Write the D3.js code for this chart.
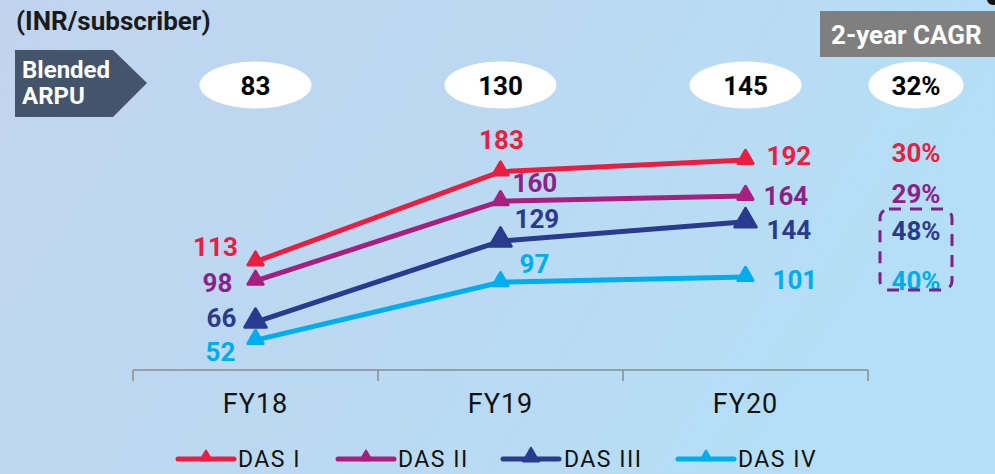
<!DOCTYPE html>
<html>
<head>
<meta charset="utf-8">
<script src="https://cdn.jsdelivr.net/npm/d3@7"></script>
<style>
  html, body { margin: 0; padding: 0; overflow: hidden; }
  svg { display: block; }
  .num { font-family: Roboto, "Noto Sans", sans-serif; font-weight: 700; }
  .narrow { font-family: "Liberation Sans Narrow", "Roboto", sans-serif; }
</style>
</head>
<body>
<svg id="chart" width="995" height="474"></svg>
<script>
// chart values
var years = ['FY18', 'FY19', 'FY20'];
var seriesNames = ['DAS I', 'DAS II', 'DAS III', 'DAS IV'];
var dasI = [113, 183, 192];
var dasII = [98, 160, 164];
var dasIII = [66, 129, 144];
var dasIV = [52, 97, 101];
var blendedArpu = [83, 130, 145];
var blendedCagr = '32%';
var seriesCagr = ['30%', '29%', '48%', '40%'];

// styles
var lineColors = ['#e91e40', '#a81f80', '#283b8e', '#00adef'];
var labelColors = ['#e91e40', '#8c2289', '#2b3b8c', '#00adef'];
var markerSize = [100, 100, 200, 100];
// label offsets from each point: [dx, dy, anchor]
var labelPos = [
  [[-40, -6, 'middle'], [1, -23, 'middle'], [21, 5, 'start']],
  [[-38, 11, 'middle'], [12, -9, 'start'], [18, 9, 'start']],
  [[-34, 5, 'middle'], [14, -13, 'start'], [21, 17, 'start']],
  [[-35, 21, 'middle'], [19, -9, 'start'], [27, 12, 'start']]
];

var svg = d3.select('#chart');
var W = 995, H = 474;

// background
var defs = svg.append('defs');
var grad = defs.append('linearGradient').attr('id', 'bg')
  .attr('x1', 0).attr('y1', 0).attr('x2', 1).attr('y2', 0.3);
grad.append('stop').attr('offset', '0%').attr('stop-color', '#c1d4ef');
grad.append('stop').attr('offset', '55%').attr('stop-color', '#bbd9f2');
grad.append('stop').attr('offset', '100%').attr('stop-color', '#b4dff6');
svg.append('rect').attr('width', W).attr('height', H).attr('fill', 'url(#bg)');
svg.append('circle').attr('cx', 993).attr('cy', -1).attr('r', 6).attr('fill', '#111');

// scales
var x = d3.scaleBand().domain(years).range([133, 868]);
var y = d3.scaleLinear().domain([0, 250]).range([407, 85.5]);
var cx = function(d) { return x(d) + x.bandwidth() / 2; };

// header
svg.append('text').attr('class', 'num')
  .attr('x', 16).attr('y', 30).attr('font-size', 26).attr('fill', '#1a1a1a')
  .text('(INR/subscriber)');

svg.append('path')
  .attr('d', 'M15,50 L113,50 L147,83 L113,117 L15,117 Z')
  .attr('fill', '#44546b');
svg.append('text').attr('class', 'num').attr('fill', '#fff').attr('font-size', 24)
  .attr('x', 22).attr('y', 78).text('Blended');
svg.append('text').attr('class', 'num').attr('fill', '#fff').attr('font-size', 24)
  .attr('x', 22).attr('y', 104).text('ARPU');

svg.append('rect').attr('x', 820).attr('y', 11).attr('width', 180).attr('height', 46)
  .attr('fill', '#7f7f7f');
svg.append('text').attr('class', 'num').attr('fill', '#fff').attr('font-size', 26)
  .attr('x', 831).attr('y', 44).text('2-year CAGR');

var arpu = svg.selectAll('g.arpu').data(blendedArpu).enter().append('g')
  .attr('class', 'arpu')
  .attr('transform', function(d, i) { return 'translate(' + cx(years[i]) + ',85)'; });
arpu.append('ellipse').attr('rx', 56).attr('ry', 23.5).attr('fill', '#fff');
arpu.append('text').attr('class', 'num').attr('text-anchor', 'middle')
  .attr('y', 9.5).attr('font-size', 26).attr('fill', '#000')
  .text(function(d) { return d; });

var cg = svg.append('g').attr('transform', 'translate(916,85)');
cg.append('ellipse').attr('rx', 47.5).attr('ry', 23.5).attr('fill', '#fff');
cg.append('text').attr('class', 'num').attr('text-anchor', 'middle')
  .attr('y', 9.5).attr('font-size', 26).attr('fill', '#000').text(blendedCagr);

// axis
var axis = svg.append('g').attr('transform', 'translate(0,370)')
  .call(d3.axisBottom(x).tickSize(0));
axis.select('.domain').remove();
axis.selectAll('text').attr('class', 'narrow').attr('font-size', 27)
  .attr('y', 43).attr('dy', 0)
  .attr('fill', '#111').attr('letter-spacing', 1);
var tickXs = [133].concat(years.map(function(d) { return x(d) + x.bandwidth(); }));
axis.append('line').attr('x1', 133).attr('x2', 868).attr('stroke', '#8c8c8c').attr('stroke-width', 1.5);
axis.selectAll('line.tk').data(tickXs).enter().append('line').attr('class', 'tk')
  .attr('x1', function(d) { return d; }).attr('x2', function(d) { return d; })
  .attr('y1', 0).attr('y2', 11).attr('stroke', '#8c8c8c').attr('stroke-width', 1.5);

// lines
var allSeries = [dasI, dasII, dasIII, dasIV];
var line = d3.line().x(function(d, i) { return cx(years[i]); }).y(function(d) { return y(d); });

allSeries.forEach(function(vals, s) {
  var g = svg.append('g');
  g.append('path').datum(vals).attr('d', line).attr('fill', 'none')
    .attr('stroke', lineColors[s]).attr('stroke-width', 5).attr('stroke-linecap', 'round');
  g.selectAll('path.mk').data(vals).enter().append('path').attr('class', 'mk')
    .attr('d', d3.symbol().type(d3.symbolTriangle).size(markerSize[s]))
    .attr('transform', function(d, i) { return 'translate(' + cx(years[i]) + ',' + (y(d) - 1) + ')'; })
    .attr('fill', lineColors[s]).attr('stroke', lineColors[s])
    .attr('stroke-width', 3).attr('stroke-linejoin', 'round');
  g.selectAll('text').data(vals).enter().append('text').attr('class', 'num')
    .attr('x', function(d, i) { return cx(years[i]) + labelPos[s][i][0]; })
    .attr('y', function(d, i) { return y(d) + labelPos[s][i][1]; })
    .attr('text-anchor', function(d, i) { return labelPos[s][i][2]; })
    .attr('font-size', 26).attr('fill', labelColors[s])
    .text(function(d) { return d; });
});

// CAGR per series
var cagrY = [162, 203, 240, 290];
svg.selectAll('text.cagr').data(seriesCagr).enter().append('text')
  .attr('class', 'num cagr').attr('x', 916)
  .attr('y', function(d, i) { return cagrY[i]; })
  .attr('text-anchor', 'middle').attr('font-size', 26)
  .attr('fill', function(d, i) { return labelColors[i]; })
  .text(function(d) { return d; });
svg.append('rect').attr('x', 880).attr('y', 209).attr('width', 72).attr('height', 81)
  .attr('rx', 9).attr('fill', 'none').attr('stroke', '#7d2384')
  .attr('stroke-width', 3).attr('stroke-dasharray', '12,9');

// legend
var legX = [178, 338, 503, 678];
var leg = svg.selectAll('g.leg').data(seriesNames).enter().append('g')
  .attr('class', 'leg')
  .attr('transform', function(d, i) { return 'translate(' + legX[i] + ',459)'; });
leg.append('line').attr('x1', 0).attr('x2', 56).attr('stroke-width', 5)
  .attr('stroke-linecap', 'round')
  .attr('stroke', function(d, i) { return lineColors[i]; });
leg.append('path')
  .attr('d', function(d, i) { return d3.symbol().type(d3.symbolTriangle).size(i === 2 ? 110 : 55)(); })
  .attr('transform', 'translate(28,-2)')
  .attr('fill', function(d, i) { return lineColors[i]; })
  .attr('stroke', function(d, i) { return lineColors[i]; })
  .attr('stroke-width', 2).attr('stroke-linejoin', 'round');
leg.append('text').attr('class', 'narrow').attr('x', function(d, i) { return i === 2 ? 61 : 60; })
  .attr('y', 8).attr('font-size', 23).attr('letter-spacing', 1.5).attr('fill', '#111')
  .text(function(d) { return d; });
</script>
</body>
</html>
